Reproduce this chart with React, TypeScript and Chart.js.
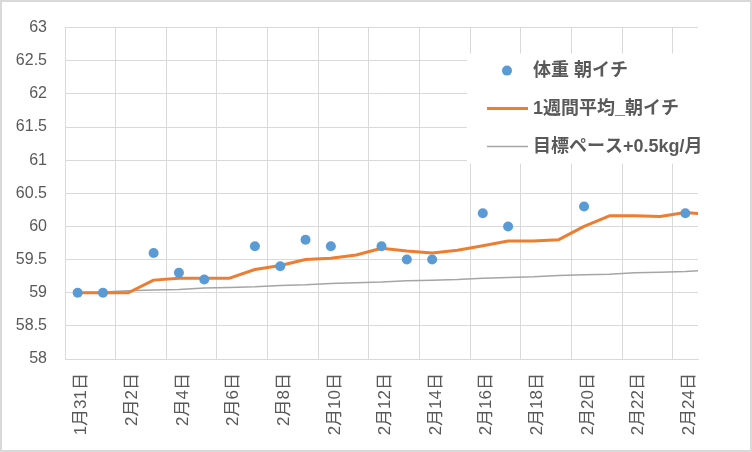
import { useEffect, useRef } from "react";
import { Chart, registerables } from "chart.js";

Chart.register(...registerables);

// one label per day, the last one (2/25) sits just past the right edge
const dayLabels = [
  "1月31日", "2月1日", "2月2日", "2月3日", "2月4日", "2月5日", "2月6日", "2月7日", "2月8日",
  "2月9日", "2月10日", "2月11日", "2月12日", "2月13日", "2月14日", "2月15日", "2月16日",
  "2月17日", "2月18日", "2月19日", "2月20日", "2月21日", "2月22日", "2月23日", "2月24日", "2月25日",
];

const morningWeight = [
  59.0, 59.0, null, 59.6, 59.3, 59.2, null, 59.7, 59.4, 59.8, 59.7, null, 59.7,
  59.5, 59.5, null, 60.2, 60.0, null, null, 60.3, null, null, null, 60.2, null,
];

const weeklyAverage = [
  59.0, 59.0, 59.0, 59.19, 59.22, 59.22, 59.22, 59.35, 59.41, 59.5, 59.52, 59.57, 59.67,
  59.63, 59.6, 59.64, 59.71, 59.78, 59.78, 59.8, 60.0, 60.16, 60.16, 60.15, 60.21, 60.18,
];

const targetPace = [
  59.0, 59.01, 59.03, 59.04, 59.05, 59.07, 59.08, 59.09, 59.11, 59.12, 59.14, 59.15, 59.16,
  59.18, 59.19, 59.2, 59.22, 59.23, 59.24, 59.26, 59.27, 59.28, 59.3, 59.31, 59.32, 59.34,
];

// labelled days (every 2nd) and the day boundaries where the vertical gridlines go
const labelTicks = [0, 2, 4, 6, 8, 10, 12, 14, 16, 18, 20, 22, 24];
const gridTicks = [-0.5, 1.5, 3.5, 5.5, 7.5, 9.5, 11.5, 13.5, 15.5, 17.5, 19.5, 21.5, 23.5];

const yMin = 58;
const yMax = 63;
const yStep = 0.5;

const FONT = '"Liberation Sans", "Noto Sans CJK JP", sans-serif';
const TEXT = "#595959";
const GRID = "#d9d9d9";

const toPoints = (values: (number | null)[]) => values.map((y, x) => ({ x, y }));

const frame = {
  id: "frame",
  beforeDraw(chart: Chart) {
    const { ctx, width, height } = chart;
    ctx.save();
    ctx.fillStyle = "#ffffff";
    ctx.fillRect(0, 0, width, height);
    ctx.restore();
  },
  afterDraw(chart: Chart) {
    const { ctx, width, height } = chart;
    ctx.save();
    ctx.strokeStyle = GRID;
    ctx.lineWidth = 2;
    ctx.strokeRect(1, 1, width - 2, height - 2);
    ctx.restore();
  },
};

// Excel-style legend box sitting inside the plot, top right
const boxLegend = {
  id: "boxLegend",
  afterDraw(chart: Chart) {
    const { ctx, chartArea } = chart;
    const left = chartArea.right - 231;
    const top = chartArea.top + 26;
    ctx.save();
    ctx.fillStyle = "#ffffff";
    ctx.fillRect(left, top, 250, 110);
    ctx.font = `bold 18px ${FONT}`;
    ctx.textBaseline = "middle";
    chart.data.datasets.forEach((ds: any, i: number) => {
      const y = top + 17 + i * 38;
      if (ds.showLine === false) {
        ctx.fillStyle = ds.backgroundColor;
        ctx.beginPath();
        ctx.arc(left + 40, y, 5, 0, Math.PI * 2);
        ctx.fill();
      } else {
        ctx.strokeStyle = ds.borderColor;
        ctx.lineWidth = ds.borderWidth;
        ctx.beginPath();
        ctx.moveTo(left + 20, y);
        ctx.lineTo(left + 61, y);
        ctx.stroke();
      }
      ctx.fillStyle = TEXT;
      ctx.fillText(ds.label, left + 66, y);
    });
    ctx.restore();
  },
};

export default function App() {
  const canvasRef = useRef<HTMLCanvasElement>(null);
  const chartRef = useRef<Chart | null>(null);

  useEffect(() => {
    if (!canvasRef.current) return;

    chartRef.current?.destroy();
    chartRef.current = new Chart(canvasRef.current, {
      type: "line",
      data: {
        datasets: [
          {
            label: "体重 朝イチ",
            data: toPoints(morningWeight),
            showLine: false,
            backgroundColor: "#5b9bd5",
            borderColor: "#5b9bd5",
            pointRadius: 5,
            pointBorderWidth: 0,
          },
          {
            label: "1週間平均_朝イチ",
            data: toPoints(weeklyAverage),
            borderColor: "#ed7d31",
            backgroundColor: "#ed7d31",
            borderWidth: 3,
            borderJoinStyle: "round",
            pointRadius: 0,
            tension: 0,
          },
          {
            label: "目標ペース+0.5kg/月",
            data: toPoints(targetPace),
            borderColor: "#a5a5a5",
            backgroundColor: "#a5a5a5",
            borderWidth: 1.5,
            pointRadius: 0,
            tension: 0,
          },
        ],
      },
      options: {
        responsive: false,
        animation: false,
        layout: { padding: { top: 24, right: 54, left: 0, bottom: 0 } },
        plugins: { legend: { display: false }, tooltip: { enabled: false } },
        scales: {
          x: {
            type: "linear",
            position: "bottom",
            min: -0.5,
            max: 24.5,
            afterBuildTicks: (axis: any) => {
              axis.ticks = labelTicks.map((value) => ({ value }));
            },
            afterFit: (axis: any) => {
              axis.height = 93;
            },
            grid: { display: false, drawTicks: false },
            border: { display: true, color: GRID, width: 1 },
            ticks: {
              autoSkip: false,
              minRotation: 90,
              maxRotation: 90,
              padding: 14,
              labelOffset: 4,
              color: TEXT,
              font: { family: FONT, size: 17 },
              callback: (value: any) => dayLabels[value] ?? "",
            },
          },
          xGrid: {
            type: "linear",
            position: "bottom",
            min: -0.5,
            max: 24.5,
            afterBuildTicks: (axis: any) => {
              axis.ticks = gridTicks.map((value) => ({ value }));
            },
            afterFit: (axis: any) => {
              axis.height = 0;
            },
            grid: { color: GRID, lineWidth: 1, drawTicks: false },
            border: { display: false },
            ticks: { display: false },
          },
          y: {
            min: yMin,
            max: yMax,
            afterFit: (axis: any) => {
              axis.width = 65;
            },
            grid: { color: GRID, lineWidth: 1, drawTicks: false },
            border: { display: false },
            ticks: {
              stepSize: yStep,
              padding: 18,
              color: TEXT,
              font: { family: FONT, size: 16 },
              callback: (value: any) => String(value),
            },
          },
        },
      },
      plugins: [frame, boxLegend],
    });

    return () => chartRef.current?.destroy();
  }, []);

  return (
    <div style={{ position: "fixed", left: 0, top: 0, width: 752, height: 452 }}>
      <canvas ref={canvasRef} width={752} height={452} />
    </div>
  );
}
